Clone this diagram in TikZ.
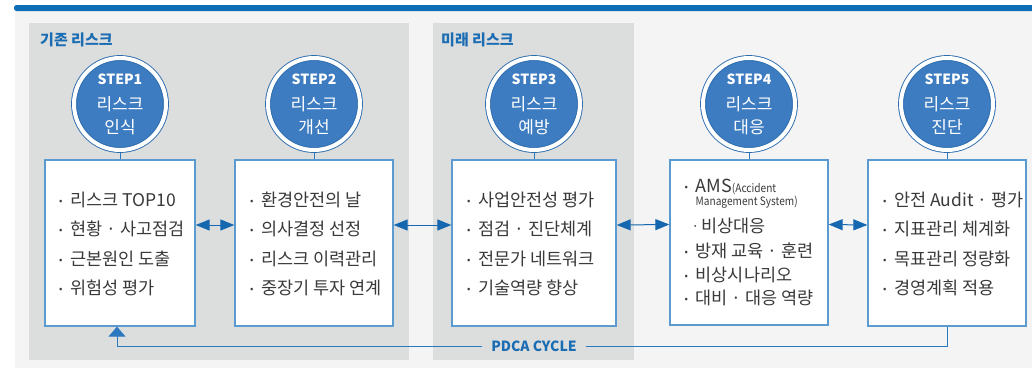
\documentclass[tikz,border=0pt]{standalone}
\usepackage{fontspec}
\setmainfont{Noto Sans CJK KR}
\newfontfamily\condf{Noto Sans CJK KR}[FakeStretch=0.88]
\usetikzlibrary{arrows.meta}
\definecolor{barblue}{HTML}{0F6DB5}
\definecolor{bgpanel}{HTML}{F4F4F4}
\definecolor{grppanel}{HTML}{DCDDDD}
\definecolor{circfill}{HTML}{3D7CC0}
\definecolor{ringblue}{HTML}{2B6CAE}
\definecolor{boxblue}{HTML}{5B9BD0}
\definecolor{lineblue}{HTML}{2A78BE}
\definecolor{arrowblue}{HTML}{1567B0}
\definecolor{txt}{HTML}{3A3A3A}
\definecolor{lblblue}{HTML}{1A6CB3}
\newcommand{\bul}{\makebox[11pt][l]{\raisebox{2pt}{\fontsize{10}{10}\selectfont •}}}
\newcommand{\sdot}{\makebox[7pt][l]{\raisebox{4.5pt}{\fontsize{7}{7}\selectfont •}}}
\tikzset{
  grplabel/.style={anchor=west, inner sep=0pt, text=lblblue, font=\fontsize{15}{15}\selectfont\bfseries},
  stepcirc/.style={circle, fill=circfill, draw=ringblue, line width=0.9pt, double=white, double distance=4pt, minimum size=92pt, inner sep=0pt},
  stepbox/.style={rectangle, draw=boxblue, line width=1.3pt, fill=white, inner sep=0pt},
  stept/.style={inner sep=0pt, text=white, font=\fontsize{14}{14}\selectfont\bfseries},
  stepk/.style={inner sep=0pt, text=white, font=\fontsize{17}{17}\selectfont},
  conn/.style={draw=lineblue, line width=1pt},
  dbl/.style={draw=arrowblue, line width=1pt, {Triangle[length=14pt,width=11pt]}-{Triangle[length=14pt,width=11pt]}},
  pdca/.style={draw=lineblue, line width=1pt, -{Triangle[length=10pt,width=17pt]}},
  pdcalabel/.style={fill=grppanel, inner xsep=9pt, inner ysep=2pt, text=lblblue, font=\fontsize{14}{14}\selectfont\bfseries},
  btxt/.style={anchor=west, inner sep=0pt, text=txt, font=\fontsize{17.5}{17.5}\selectfont},
}
\begin{document}
\begin{tikzpicture}[x=1pt,y=-1pt]
\useasboundingbox (0,0) rectangle (1032,368);
\fill[white] (0,0) rectangle (1032,368);
\fill[bgpanel] (15,10) rectangle (1032,368);
\fill[barblue, rounded corners=2.5pt] (14,5) rectangle (1040,11);
\fill[grppanel] (29,23) rectangle (409,360);
\fill[grppanel] (433,23) rectangle (634,360);
\node[grplabel] (g1) at (40,40) {기존 리스크};
\node[grplabel] (g2) at (441,40) {미래 리스크};
% boxes
\node[stepbox, minimum width=150pt, minimum height=166pt] (b1) at (120,243) {};
\node[stepbox, minimum width=158pt, minimum height=166pt] (b2) at (314,243) {};
\node[stepbox, minimum width=164pt, minimum height=166pt] (b3) at (534,243) {};
\node[stepbox, minimum width=158pt, minimum height=165pt] (b4) at (749,242.5) {};
\node[stepbox, minimum width=158pt, minimum height=166pt] (b5) at (947,243) {};
% circles
\foreach \i/\x/\w in {1/120/인식, 2/314/개선, 3/534/예방, 4/749/대응, 5/947/진단}{
  \coordinate (cc\i) at (\x,104);
  \draw[conn] (cc\i) -- (b\i);
  \node[stepcirc] (c\i) at (cc\i) {};
  \node[stept] (s\i) at ([yshift=24.5pt]c\i.center) {STEP\i};
  \node[stepk] (k\i) at (c\i.center) {리스크};
  \node[stepk] (w\i) at ([yshift=-22.7pt]c\i.center) {\w};
}
% double arrows
\draw[dbl] ([yshift=18pt]b1.east) -- ([yshift=18pt]b2.west);
\draw[dbl] ([yshift=18pt]b2.east) -- ([yshift=18pt]b3.west);
\draw[dbl] ([yshift=18pt]b3.east) -- ([yshift=18pt]b4.west);
\draw[dbl] ([yshift=18pt]b4.east) -- ([yshift=18pt]b5.west);
% PDCA
\coordinate (p2) at (117,346);
\draw[pdca] (b5.south) |- (p2) -- ([xshift=-3pt]b1.south);
\node[pdcalabel] (pd) at (534,346) {PDCA CYCLE};
% box texts
\node[btxt] (t11) at (59,200) {\bul 리스크 TOP10};
\node[btxt] (t12) at (59,229.3) {\bul 현황 · 사고점검};
\node[btxt] (t13) at (59,258.6) {\bul 근본원인 도출};
\node[btxt] (t14) at (59,288) {\bul 위험성 평가};
\node[btxt] (t21) at (250,200) {\bul 환경안전의 날};
\node[btxt] (t22) at (250,229.3) {\bul 의사결정 선정};
\node[btxt] (t23) at (250,258.6) {\bul 리스크 이력관리};
\node[btxt] (t24) at (250,288) {\bul 중장기 투자 연계};
\node[btxt] (t31) at (467,200) {\bul 사업안전성 평가};
\node[btxt] (t32) at (467,229.3) {\bul 점검 · 진단체계};
\node[btxt] (t33) at (467,258.6) {\bul 전문가 네트워크};
\node[btxt] (t34) at (467,288) {\bul 기술역량 향상};
\node[btxt] (t41) at (684.5,187) {\bul {\fontsize{18}{18}\selectfont AMS}{\condf\fontsize{11.5}{11.5}\selectfont(Accident}};
\node[btxt] (t42) at (695.5,202.5) {\condf\fontsize{11.5}{11.5}\selectfont Management System)};
\node[btxt] (t43) at (694,226) {\sdot 비상대응};
\node[btxt] (t44) at (684.5,251) {\bul 방재 교육 · 훈련};
\node[btxt] (t45) at (684.5,275) {\bul 비상시나리오};
\node[btxt] (t46) at (684.5,298) {\bul 대비 · 대응 역량};
\node[btxt] (t51) at (883,200) {\bul 안전 Audit · 평가};
\node[btxt] (t52) at (883,229.3) {\bul 지표관리 체계화};
\node[btxt] (t53) at (883,258.6) {\bul 목표관리 정량화};
\node[btxt] (t54) at (883,288) {\bul 경영계획 적용};
\end{tikzpicture}
\end{document}
